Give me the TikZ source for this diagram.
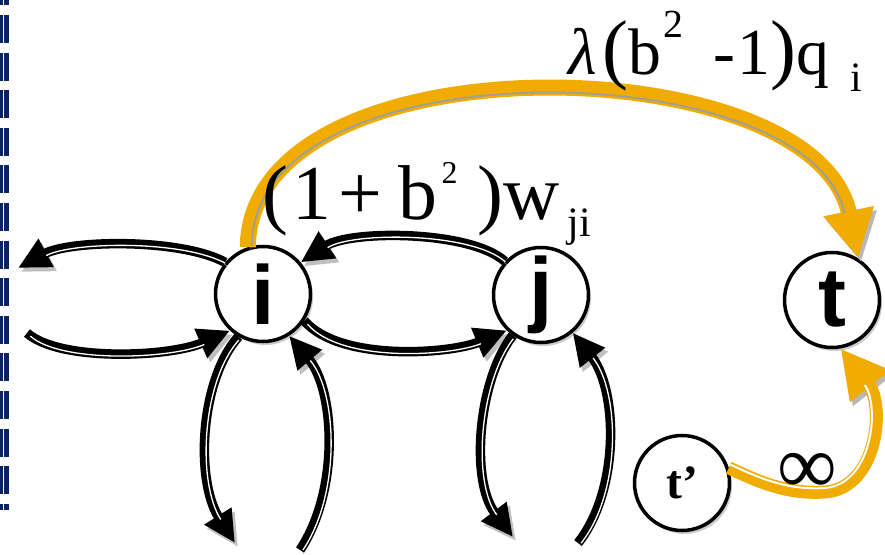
\documentclass[tikz,border=0pt]{standalone}
\usepackage{fontspec}
\setmainfont{Liberation Serif}
\newfontfamily\nodesans{Liberation Sans}
\usetikzlibrary{arrows.meta,shadows}
\definecolor{navy}{RGB}{10,36,97}
\definecolor{gold}{RGB}{240,172,0}
\begin{document}
\begin{tikzpicture}[x=1bp,y=-1bp,
  vtx/.style={circle, draw=black, line width=3.5bp, fill=white, minimum size=95bp, inner sep=0pt,
    drop shadow={shadow xshift=2.5bp, shadow yshift=-3.5bp, fill=black!40}},
  bigsans/.style={font=\nodesans\bfseries\fontsize{84}{84}\selectfont},
  blk/.style={draw=black, line width=9.5bp, -{Triangle[length=32bp,width=30bp]},
    preaction={draw=black!25, transform canvas={shift={(3,4)}}},
    postaction={draw=white, line width=1.3bp, -, shorten >=30bp, shorten <=2bp,
      transform canvas={shift={(1.8,1.8)}}}},
  org/.style={draw=gold, -{Triangle[length=48bp,width=48bp]},
    preaction={draw=black!28, transform canvas={shift={(3,4)}}}},
  stripe/.style={line width=1.8bp, shorten >=46bp, shorten <=2bp},
  lbl/.style={inner sep=0pt, anchor=base west}
]
\useasboundingbox (0,0) rectangle (885,555);

% slide border strip
\draw[navy, line width=3bp, dash pattern=on 28bp off 9.6bp] (1.5,-22.6) -- (1.5,510);
\draw[navy, line width=5bp, dash pattern=on 28bp off 9.6bp] (6.5,-22.6) -- (6.5,510);

% nodes
\node[vtx, bigsans] (i) at (263,294) {i};
\node[vtx, bigsans] (j) at (541,295) {j};
\node[vtx, bigsans] (t) at (832,300) {t};
\node[vtx, font=\bfseries\fontsize{48}{48}\selectfont] (tp) at (682,483) {t’};

\coordinate (lt) at (18,268);
\coordinate (ls) at (27,333);
\coordinate (id) at (235,543);
\coordinate (iu) at (300,550);
\coordinate (jd) at (513,537);
\coordinate (ju) at (578,543);
\coordinate (om) at (825,492);
\coordinate (oms) at (825,488);

% black connectors
\draw[blk] (i.140) .. controls (180,238) and (70,240) .. (lt);
\draw[blk] (ls) .. controls (60,362) and (170,357) .. (i.228);
\draw[blk] (j.137) .. controls (470,230) and (350,230) .. (i.40);
\draw[blk] (i.-33) .. controls (340,362) and (450,354) .. (j.226);
\draw[blk] (i.240) .. controls (200,380) and (195,480) .. (id);
\draw[blk] (iu) .. controls (340,490) and (335,390) .. (i.-58);
\draw[blk] (j.235) .. controls (478,380) and (470,480) .. (jd);
\draw[blk] (ju) .. controls (620,490) and (618,390) .. (j.-50);

% orange connectors
\draw[org, line width=16bp] (i.108) .. controls (250,35) and (815,45) .. (t.58);
\draw[stripe, draw=black!38] ([xshift=4bp]i.108) .. controls (255,42) and (810,52) .. ([xshift=-4bp]t.58);
\draw[org, line width=13bp] (tp.18) .. controls (765,485) and (790,494) .. (om)
  .. controls (878,488) and (885,405) .. (t.-80);
\draw[stripe, draw=white, line width=2bp] ([yshift=4bp]tp.18) .. controls (765,481) and (790,490) .. (oms)
  .. controls (873,484) and (880,405) .. ([xshift=-4bp]t.-80);

% labels
\node[lbl] (lam) at (568,75) {\fontsize{66}{66}\selectfont{\itshape λ}\hspace{6bp}{\fontsize{78}{78}\selectfont(}b\hspace{2bp}\raisebox{37bp}{\fontsize{40}{40}\selectfont 2}\hspace{30bp}-\hspace{2bp}1{\fontsize{78}{78}\selectfont)}q\hspace{22bp}\raisebox{-17bp}{\fontsize{42}{42}\selectfont i}};
\node[lbl] (wji) at (262,220) {\fontsize{78}{78}\selectfont (\hspace{4bp}1\hspace{8bp}+\hspace{16bp}b\hspace{4bp}\raisebox{36bp}{\fontsize{32}{32}\selectfont 2}\hspace{20bp})w\hspace{8bp}\raisebox{-17bp}{\fontsize{42}{42}\selectfont ji}};
\node[inner sep=0pt] (inf) at (807,473) {\fontsize{84}{84}\selectfont ∞};
\end{tikzpicture}
\end{document}
